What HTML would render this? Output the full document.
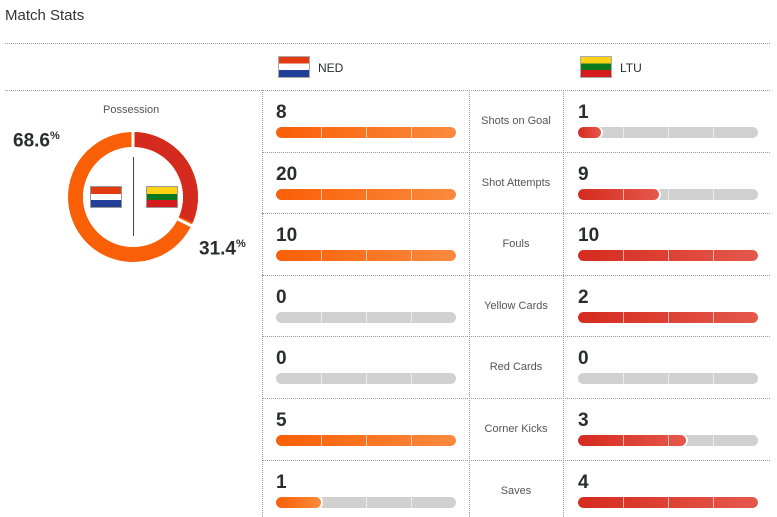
<!DOCTYPE html>
<html><head><meta charset="utf-8"><style>
body{margin:0;width:777px;height:517px;background:#fff;font-family:"Liberation Sans",sans-serif;position:relative;overflow:hidden;color:#2b2c2d}
.a{position:absolute}
.h{border-top:1px dotted #999;height:0}
.v{border-left:1px dotted #999;width:0}
.num{font-weight:bold;font-size:19px}
.bar{height:11px;border-radius:6px;background:#d0d0d0;overflow:hidden;width:180px}
.bar .f{height:11px;border-radius:6px}
.o{background:linear-gradient(90deg,#f95f06,#fb8a3e)}
.r{background:linear-gradient(90deg,#d52b1e,#e5584c)}
.sep{position:absolute;top:0;width:1px;height:11px;background:rgba(255,255,255,.6)}
.lab{font-size:11px;color:#555;text-align:center;width:94px;left:469px}
</style></head><body>
<div class="a" style="left:5px;top:7px;font-size:15px;color:#333">Match Stats</div>
<div class="a h" style="left:5px;top:43px;width:765px"></div>
<div class="a h" style="left:5px;top:90px;width:765px"></div>
<div class="a" style="left:278px;top:56px;width:32px;height:22px;background:linear-gradient(#e23b12 0 33%,#fff 33% 66%,#213f98 66%);border:1px solid #aaa;box-sizing:border-box"></div>
<div class="a" style="left:318px;top:61px;font-size:12px">NED</div>
<div class="a" style="left:580px;top:56px;width:32px;height:22px;background:linear-gradient(#fcd116 0 33%,#0b7a1f 33% 66%,#d51b1b 66%);border:1px solid #aaa;box-sizing:border-box"></div>
<div class="a" style="left:620px;top:61px;font-size:12px">LTU</div>
<div class="a v" style="left:262px;top:90px;height:427px"></div>
<div class="a v" style="left:469px;top:90px;height:427px"></div>
<div class="a v" style="left:563px;top:90px;height:427px"></div>
<div class="a" style="left:103px;top:104px;font-size:11px;color:#555">Possession</div>
<div class="a" style="left:13px;top:130px;font-size:19px;font-weight:bold">68.6<sup style="font-size:11px">%</sup></div>
<div class="a" style="left:199px;top:238px;font-size:19px;font-weight:bold">31.4<sup style="font-size:11px">%</sup></div>
<svg class="a" style="left:0;top:0" width="262" height="300">
<circle cx="133" cy="197" r="57.5" fill="none" stroke="#f95f06" stroke-width="15"/>
<circle cx="133" cy="197" r="57.5" fill="none" stroke="#d52b1e" stroke-width="15" stroke-dasharray="113.4 400" transform="rotate(-90 133 197)"/>
<line x1="133" y1="132" x2="133" y2="147" stroke="#fff" stroke-width="3"/>
<line x1="133" y1="197" x2="200" y2="230" stroke="#fff" stroke-width="3" transform="rotate(0)"/>
<circle cx="133" cy="197" r="50" fill="#fff"/>
<line x1="133.5" y1="157" x2="133.5" y2="236" stroke="#444"/>
<rect x="90.5" y="186.5" width="31" height="21" fill="#fff" stroke="#999"/>
<rect x="91" y="187" width="30" height="7" fill="#e23b12"/><rect x="91" y="200" width="30" height="7" fill="#213f98"/>
<rect x="146.5" y="186.5" width="31" height="21" fill="#fff" stroke="#999"/>
<rect x="147" y="187" width="30" height="7" fill="#fcd116"/><rect x="147" y="194" width="30" height="7" fill="#0b7a1f"/><rect x="147" y="200" width="30" height="7" fill="#d51b1b"/>
</svg>
<div id="rows"></div>
<script>
var d=[["Shots on Goal",8,1],["Shot Attempts",20,9],["Fouls",10,10],["Yellow Cards",0,2],["Red Cards",0,0],["Corner Kicks",5,3],["Saves",1,4]];
var h="";
d.forEach(function(r,i){var t=90+i*61.6;var m=Math.max(r[1],r[2]);
if(i>0)h+='<div class="a h" style="left:262px;top:'+Math.round(t)+'px;width:508px"></div>';
function bar(x,v,c){var w=m?v/m*180:0;var s='<div class="a bar" style="left:'+x+'px;top:'+Math.round(t+37)+'px">'+(w?'<div class="f '+c+'" style="width:'+w+'px'+(w<180?';box-shadow:1px 0 0 1px #fff':'')+'"></div>':'');
[45,90,135].forEach(function(p){s+='<div class="sep" style="left:'+p+'px"></div>'});return s+'</div>';}
h+='<div class="a num" style="left:276px;top:'+Math.round(t+12)+'px">'+r[1]+'</div>';
h+='<div class="a num" style="left:578px;top:'+Math.round(t+12)+'px">'+r[2]+'</div>';
h+=bar(276,r[1],"o")+bar(578,r[2],"r");
h+='<div class="a lab" style="top:'+Math.round(t+25)+'px">'+r[0]+'</div>';});
document.getElementById("rows").innerHTML=h;
</script>
</body></html>
